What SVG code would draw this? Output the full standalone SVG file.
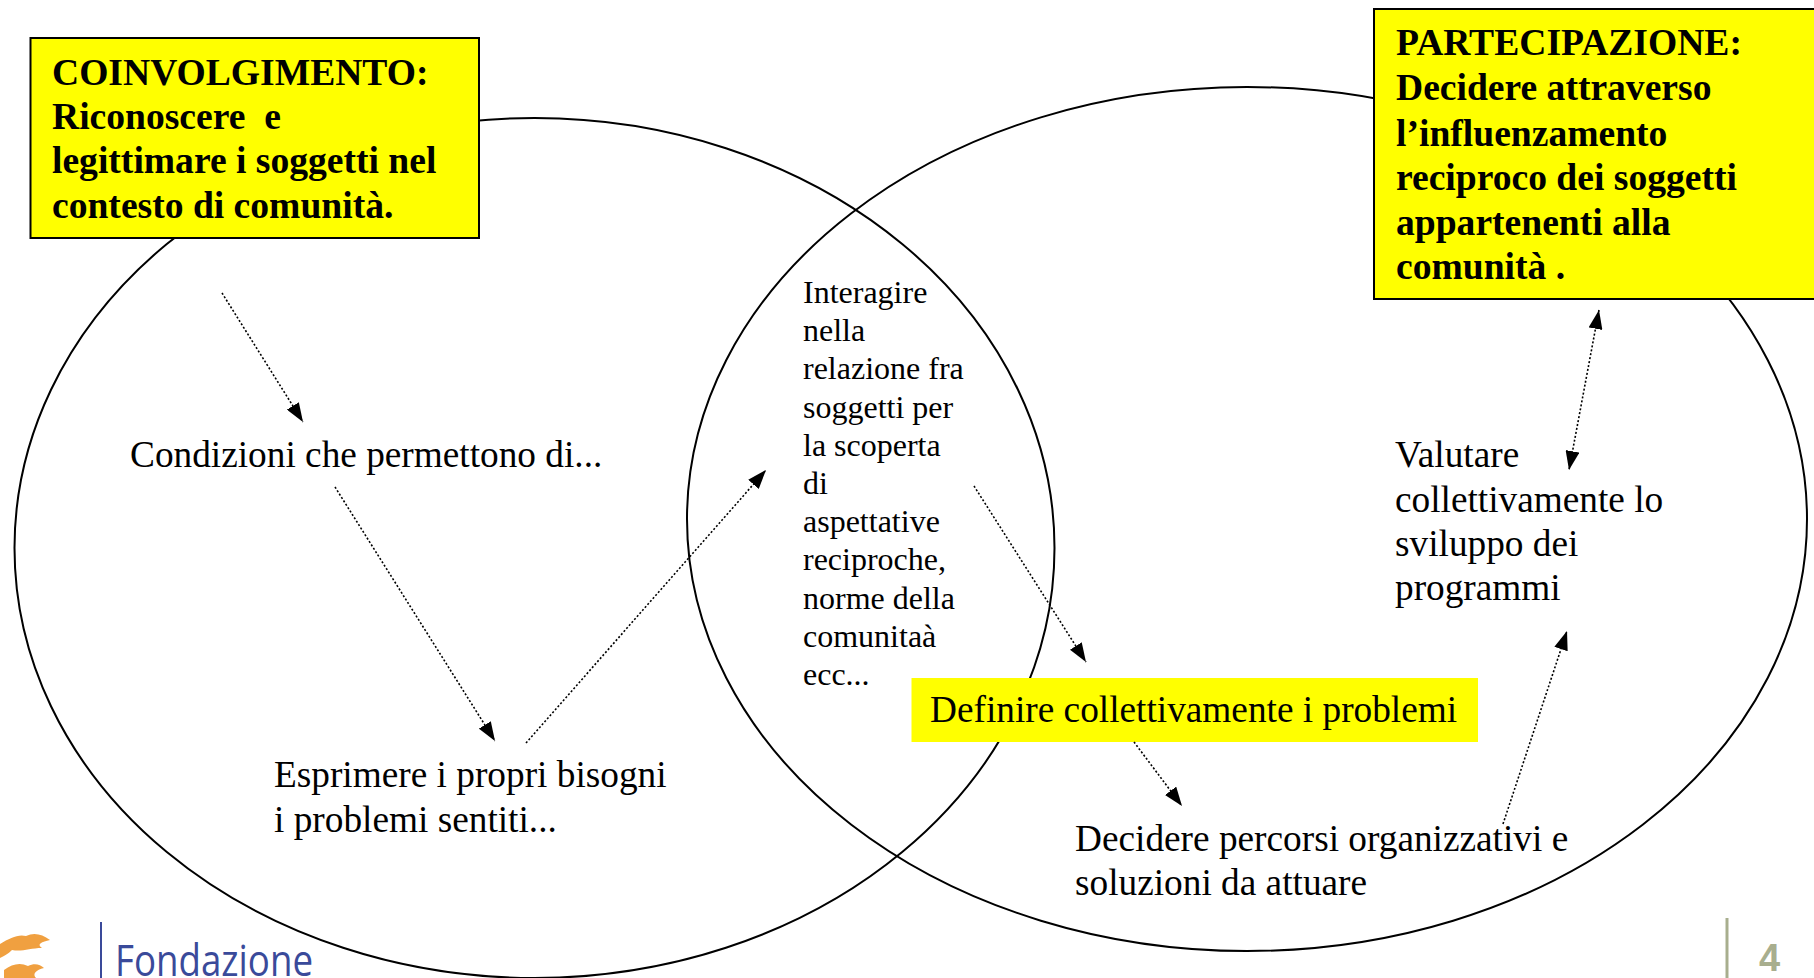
<svg xmlns="http://www.w3.org/2000/svg" width="1814" height="978" viewBox="0 0 1814 978">
<style>
.serif{font-family:"Liberation Serif","Times New Roman",serif;fill:#000}
.big{font-size:37.3px}
.bold{font-size:37.6px;font-weight:bold}
.small{font-size:32px}
.ell{fill:none;stroke:#000;stroke-width:2}
.box{fill:#ffff00;stroke:#000;stroke-width:2}
.conn{fill:none;stroke:#000;stroke-width:1.6;stroke-dasharray:2 2}
</style>
<defs>
<marker id="ah" markerUnits="userSpaceOnUse" markerWidth="20" markerHeight="14" refX="19" refY="7" orient="auto-start-reverse">
<path d="M0,0 L19,7 L0,14 z" fill="#000"/>
</marker>
</defs>
<rect width="1814" height="978" fill="#fff"/>
<g id="circles">
<ellipse class="ell" cx="534.5" cy="548" rx="520" ry="430"/>
<ellipse class="ell" cx="1247" cy="519" rx="560" ry="432"/>
</g>
<g id="coinvolgimento">
<rect class="box" x="30.5" y="38" width="448.5" height="200"/>
<text class="serif bold" x="52" y="85">COINVOLGIMENTO:</text>
<text class="serif bold" x="52" y="129" style="white-space:pre">Riconoscere  e</text>
<text class="serif bold" x="52" y="173">legittimare i soggetti nel</text>
<text class="serif bold" x="52" y="218">contesto di comunità.</text>
</g>
<g id="partecipazione">
<rect class="box" x="1374" y="9" width="460" height="290"/>
<text class="serif bold" x="1396" y="55">PARTECIPAZIONE:</text>
<text class="serif bold" x="1396" y="100">Decidere attraverso</text>
<text class="serif bold" x="1396" y="146">l’influenzamento</text>
<text class="serif bold" x="1396" y="190">reciproco dei soggetti</text>
<text class="serif bold" x="1396" y="235">appartenenti alla</text>
<text class="serif bold" x="1396" y="279">comunità .</text>
</g>
<g id="condizioni">
<text class="serif big" x="130" y="467">Condizioni che permettono di...</text>
</g>
<g id="esprimere">
<text class="serif big" x="274" y="787">Esprimere i propri bisogni</text>
<text class="serif big" x="274" y="832">i problemi sentiti...</text>
</g>
<g id="interagire" class="serif small">
<text x="803" y="303">Interagire</text>
<text x="803" y="341">nella</text>
<text x="803" y="379">relazione fra</text>
<text x="803" y="418">soggetti per</text>
<text x="803" y="456">la scoperta</text>
<text x="803" y="494">di</text>
<text x="803" y="532">aspettative</text>
<text x="803" y="570">reciproche,</text>
<text x="803" y="609">norme della</text>
<text x="803" y="647">comunitaà</text>
<text x="803" y="685">ecc...</text>
</g>
<g id="definire">
<rect x="911.5" y="678" width="566.5" height="64" fill="#ffff00"/>
<text class="serif big" x="930" y="722">Definire collettivamente i problemi</text>
</g>
<g id="decidere">
<text class="serif big" x="1075" y="851">Decidere percorsi organizzativi e</text>
<text class="serif big" x="1075" y="895">soluzioni da attuare</text>
</g>
<g id="valutare">
<text class="serif big" x="1395" y="467">Valutare</text>
<text class="serif big" x="1395" y="512">collettivamente lo</text>
<text class="serif big" x="1395" y="556">sviluppo dei</text>
<text class="serif big" x="1395" y="600">programmi</text>
</g>
<g id="connectors">
<line class="conn" x1="222" y1="293" x2="303" y2="422" marker-end="url(#ah)"/>
<line class="conn" x1="335" y1="487" x2="495" y2="741" marker-end="url(#ah)"/>
<line class="conn" x1="526" y1="743" x2="766" y2="470" marker-end="url(#ah)"/>
<line class="conn" x1="974" y1="486" x2="1086" y2="662" marker-end="url(#ah)"/>
<line class="conn" x1="1134" y1="742" x2="1182" y2="806" marker-end="url(#ah)"/>
<line class="conn" x1="1503" y1="824" x2="1567" y2="631" marker-end="url(#ah)"/>
<line class="conn" x1="1599" y1="310" x2="1569" y2="470" marker-start="url(#ah)" marker-end="url(#ah)"/>
</g>
<g id="footer">
<path d="M0,944 C10,938 18,934 26,936 C34,932 42,934 50,940 C42,942 36,944 42,948 C30,948 22,952 12,950 C8,954 4,956 0,958 z" fill="#f0a040"/>
<path d="M4,970 C12,964 20,962 28,966 C34,963 40,964 44,968 C36,970 32,974 36,978 L4,978 z" fill="#f0a040"/>
<line x1="101" y1="922" x2="101" y2="978" stroke="#3a4a9a" stroke-width="2"/>
<text x="115" y="976" font-family="'Open Sans','Liberation Sans',sans-serif" font-size="44" fill="#3a4a9a" textLength="198" lengthAdjust="spacingAndGlyphs">Fondazione</text>
<line x1="1727" y1="918" x2="1727" y2="978" stroke="#a8ae8e" stroke-width="3"/>
<text x="1759" y="971" font-family="'Liberation Sans',sans-serif" font-size="38" font-weight="bold" fill="#a8ae8e">4</text>
</g>
</svg>
